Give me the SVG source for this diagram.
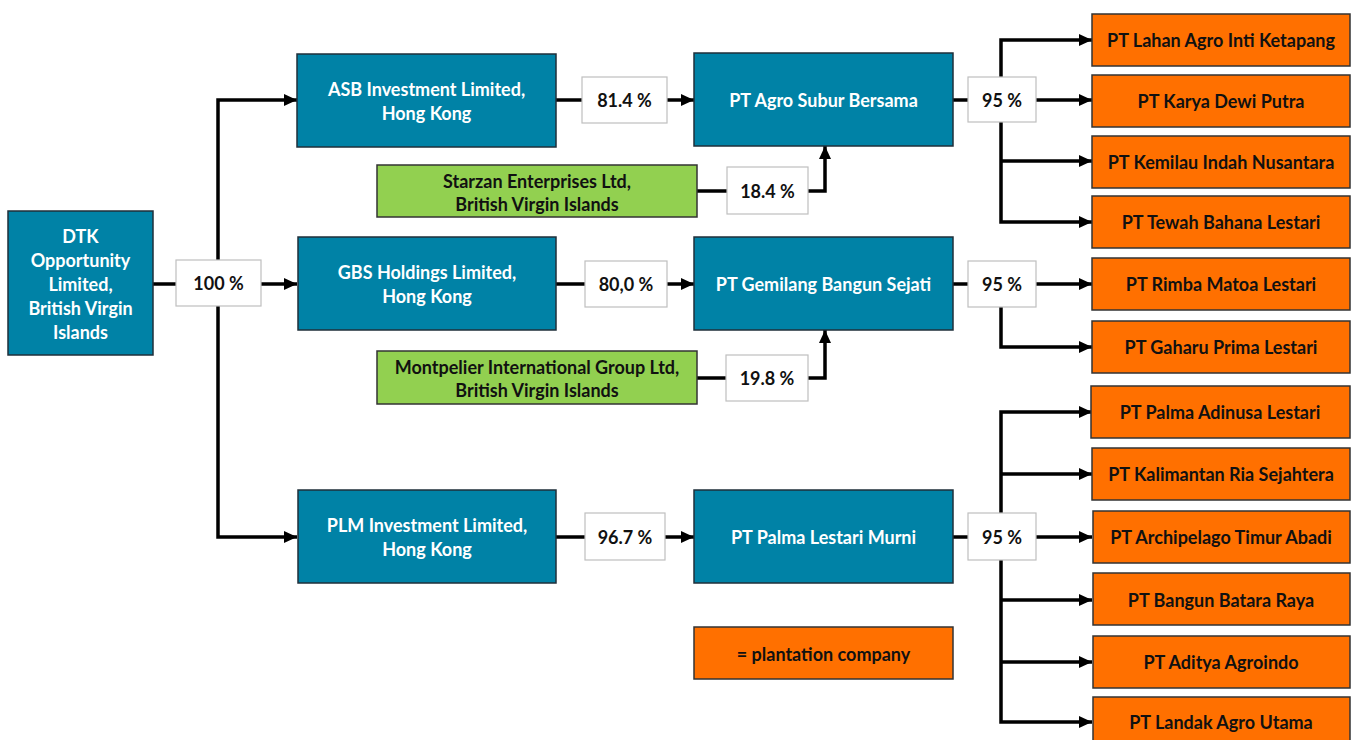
<svg xmlns="http://www.w3.org/2000/svg" width="1355" height="740" viewBox="0 0 1355 740">
<style>
.blue{fill:#0082a6;stroke:#1f2f3a;stroke-width:1.5}
.green{fill:#92d050;stroke:#333;stroke-width:1.5}
.orange{fill:#ff7000;stroke:#333;stroke-width:1.5}
.pct{fill:#fff;stroke:#bfbfbf;stroke-width:1.2}
text{font-family:Lato,"Open Sans","Liberation Sans",sans-serif;font-weight:bold;font-size:18px;text-anchor:middle;dominant-baseline:central}
.w{fill:#fff}
.k{fill:#111}
.c path{fill:none;stroke:#000;stroke-width:3.5}
</style>
<defs>
<marker id="ar" markerUnits="userSpaceOnUse" markerWidth="14" markerHeight="14" refX="13" refY="7" orient="auto">
<path d="M0,1 L13,7 L0,13 Z" fill="#000"/>
</marker>
</defs>
<rect width="1355" height="740" fill="#fff"/>
<g class="c">
<path d="M153,284 H176"/>
<path d="M218,260 V100 H297" marker-end="url(#ar)"/>
<path d="M218,306 V537 H297" marker-end="url(#ar)"/>
<path d="M261,284 H297" marker-end="url(#ar)"/>
<path d="M556,100 H582"/>
<path d="M667,100 H694" marker-end="url(#ar)"/>
<path d="M697,191 H727"/>
<path d="M808,191 H825 V146" marker-end="url(#ar)"/>
<path d="M953,100 H968"/>
<path d="M1036,100 H1092" marker-end="url(#ar)"/>
<path d="M1001,77 V40 H1092" marker-end="url(#ar)"/>
<path d="M1001,122 V222 H1092" marker-end="url(#ar)"/>
<path d="M1001,161 H1092" marker-end="url(#ar)"/>
<path d="M556,284 H585"/>
<path d="M667,284 H694" marker-end="url(#ar)"/>
<path d="M697,378 H726"/>
<path d="M808,378 H825 V330" marker-end="url(#ar)"/>
<path d="M953,284 H968"/>
<path d="M1036,284 H1092" marker-end="url(#ar)"/>
<path d="M1001,307 V347 H1092" marker-end="url(#ar)"/>
<path d="M556,537 H585"/>
<path d="M665,537 H694" marker-end="url(#ar)"/>
<path d="M953,537 H968"/>
<path d="M1036,537 H1092" marker-end="url(#ar)"/>
<path d="M1001,513 V412 H1092" marker-end="url(#ar)"/>
<path d="M1001,474 H1092" marker-end="url(#ar)"/>
<path d="M1001,560 V722 H1092" marker-end="url(#ar)"/>
<path d="M1001,600 H1092" marker-end="url(#ar)"/>
<path d="M1001,662 H1092" marker-end="url(#ar)"/>
</g>
<g id="dtk"><rect class="blue" x="8" y="211" width="145" height="144"/>
<text class="w" x="80.5" y="236">DTK</text><text class="w" x="80.5" y="260">Opportunity</text><text class="w" x="80.5" y="284">Limited,</text><text class="w" x="80.5" y="308">British Virgin</text><text class="w" x="80.5" y="332">Islands</text></g>
<g id="p100"><rect class="pct" x="176" y="260" width="85" height="46"/><text class="k" x="218.5" y="283">100 %</text></g>
<g id="asb"><rect class="blue" x="297" y="54" width="259" height="93"/><text class="w" x="426.5" y="89">ASB Investment Limited,</text><text class="w" x="426.5" y="113">Hong Kong</text></g>
<g id="p814"><rect class="pct" x="582" y="77" width="85" height="46"/><text class="k" x="624.5" y="100">81.4 %</text></g>
<g id="asbs"><rect class="blue" x="694" y="53" width="259" height="93"/><text class="w" x="823.5" y="100">PT Agro Subur Bersama</text></g>
<g id="starzan"><rect class="green" x="377" y="165" width="320" height="52"/><text class="k" x="537" y="181">Starzan Enterprises Ltd,</text><text class="k" x="537" y="204">British Virgin Islands</text></g>
<g id="p184"><rect class="pct" x="727" y="167" width="81" height="47"/><text class="k" x="767.5" y="191">18.4 %</text></g>
<g id="p95a"><rect class="pct" x="968" y="77" width="68" height="45"/><text class="k" x="1002" y="100">95 %</text></g>
<g id="o1"><rect class="orange" x="1092" y="14" width="258" height="52"/><text class="k" x="1221" y="40">PT Lahan Agro Inti Ketapang</text></g>
<g id="o2"><rect class="orange" x="1092" y="75" width="258" height="52"/><text class="k" x="1221" y="101">PT Karya Dewi Putra</text></g>
<g id="o3"><rect class="orange" x="1092" y="136" width="258" height="52"/><text class="k" x="1221" y="162">PT Kemilau Indah Nusantara</text></g>
<g id="o4"><rect class="orange" x="1092" y="196" width="258" height="52"/><text class="k" x="1221" y="222">PT Tewah Bahana Lestari</text></g>
<g id="gbs"><rect class="blue" x="298" y="237" width="258" height="93"/><text class="w" x="427" y="272">GBS Holdings Limited,</text><text class="w" x="427" y="296">Hong Kong</text></g>
<g id="p800"><rect class="pct" x="585" y="261" width="82" height="46"/><text class="k" x="626" y="284">80,0 %</text></g>
<g id="gemilang"><rect class="blue" x="694" y="237" width="259" height="93"/><text class="w" x="823.5" y="284">PT Gemilang Bangun Sejati</text></g>
<g id="montpelier"><rect class="green" x="377" y="351" width="320" height="53"/><text class="k" x="537" y="367">Montpelier International Group Ltd,</text><text class="k" x="537" y="390">British Virgin Islands</text></g>
<g id="p198"><rect class="pct" x="726" y="355" width="82" height="46"/><text class="k" x="767" y="378">19.8 %</text></g>
<g id="p95b"><rect class="pct" x="968" y="261" width="68" height="46"/><text class="k" x="1002" y="284">95 %</text></g>
<g id="o5"><rect class="orange" x="1092" y="258" width="258" height="52"/><text class="k" x="1221" y="284">PT Rimba Matoa Lestari</text></g>
<g id="o6"><rect class="orange" x="1092" y="321" width="258" height="52"/><text class="k" x="1221" y="347">PT Gaharu Prima Lestari</text></g>
<g id="plm"><rect class="blue" x="298" y="490" width="258" height="93"/><text class="w" x="427" y="525">PLM Investment Limited,</text><text class="w" x="427" y="549">Hong Kong</text></g>
<g id="p967"><rect class="pct" x="585" y="513" width="80" height="47"/><text class="k" x="625" y="537">96.7 %</text></g>
<g id="plmurni"><rect class="blue" x="694" y="490" width="259" height="93"/><text class="w" x="823.5" y="537">PT Palma Lestari Murni</text></g>
<g id="p95c"><rect class="pct" x="968" y="513" width="68" height="47"/><text class="k" x="1002" y="537">95 %</text></g>
<g id="o7"><rect class="orange" x="1091" y="386" width="259" height="52"/><text class="k" x="1220" y="412">PT Palma  Adinusa Lestari</text></g>
<g id="o8"><rect class="orange" x="1092" y="448" width="258" height="52"/><text class="k" x="1221" y="474">PT Kalimantan Ria Sejahtera</text></g>
<g id="o9"><rect class="orange" x="1093" y="511" width="257" height="52"/><text class="k" x="1221" y="537">PT Archipelago Timur Abadi</text></g>
<g id="o10"><rect class="orange" x="1093" y="573" width="257" height="52"/><text class="k" x="1221" y="600">PT Bangun Batara  Raya</text></g>
<g id="o11"><rect class="orange" x="1093" y="636" width="257" height="52"/><text class="k" x="1221" y="662">PT Aditya Agroindo</text></g>
<g id="o12"><rect class="orange" x="1093" y="697" width="257" height="52"/><text class="k" x="1221" y="722">PT Landak Agro Utama</text></g>
<g id="legend"><rect class="orange" x="694" y="627" width="259" height="52"/><text class="k" x="823.5" y="654">= plantation company</text></g>
</svg>
